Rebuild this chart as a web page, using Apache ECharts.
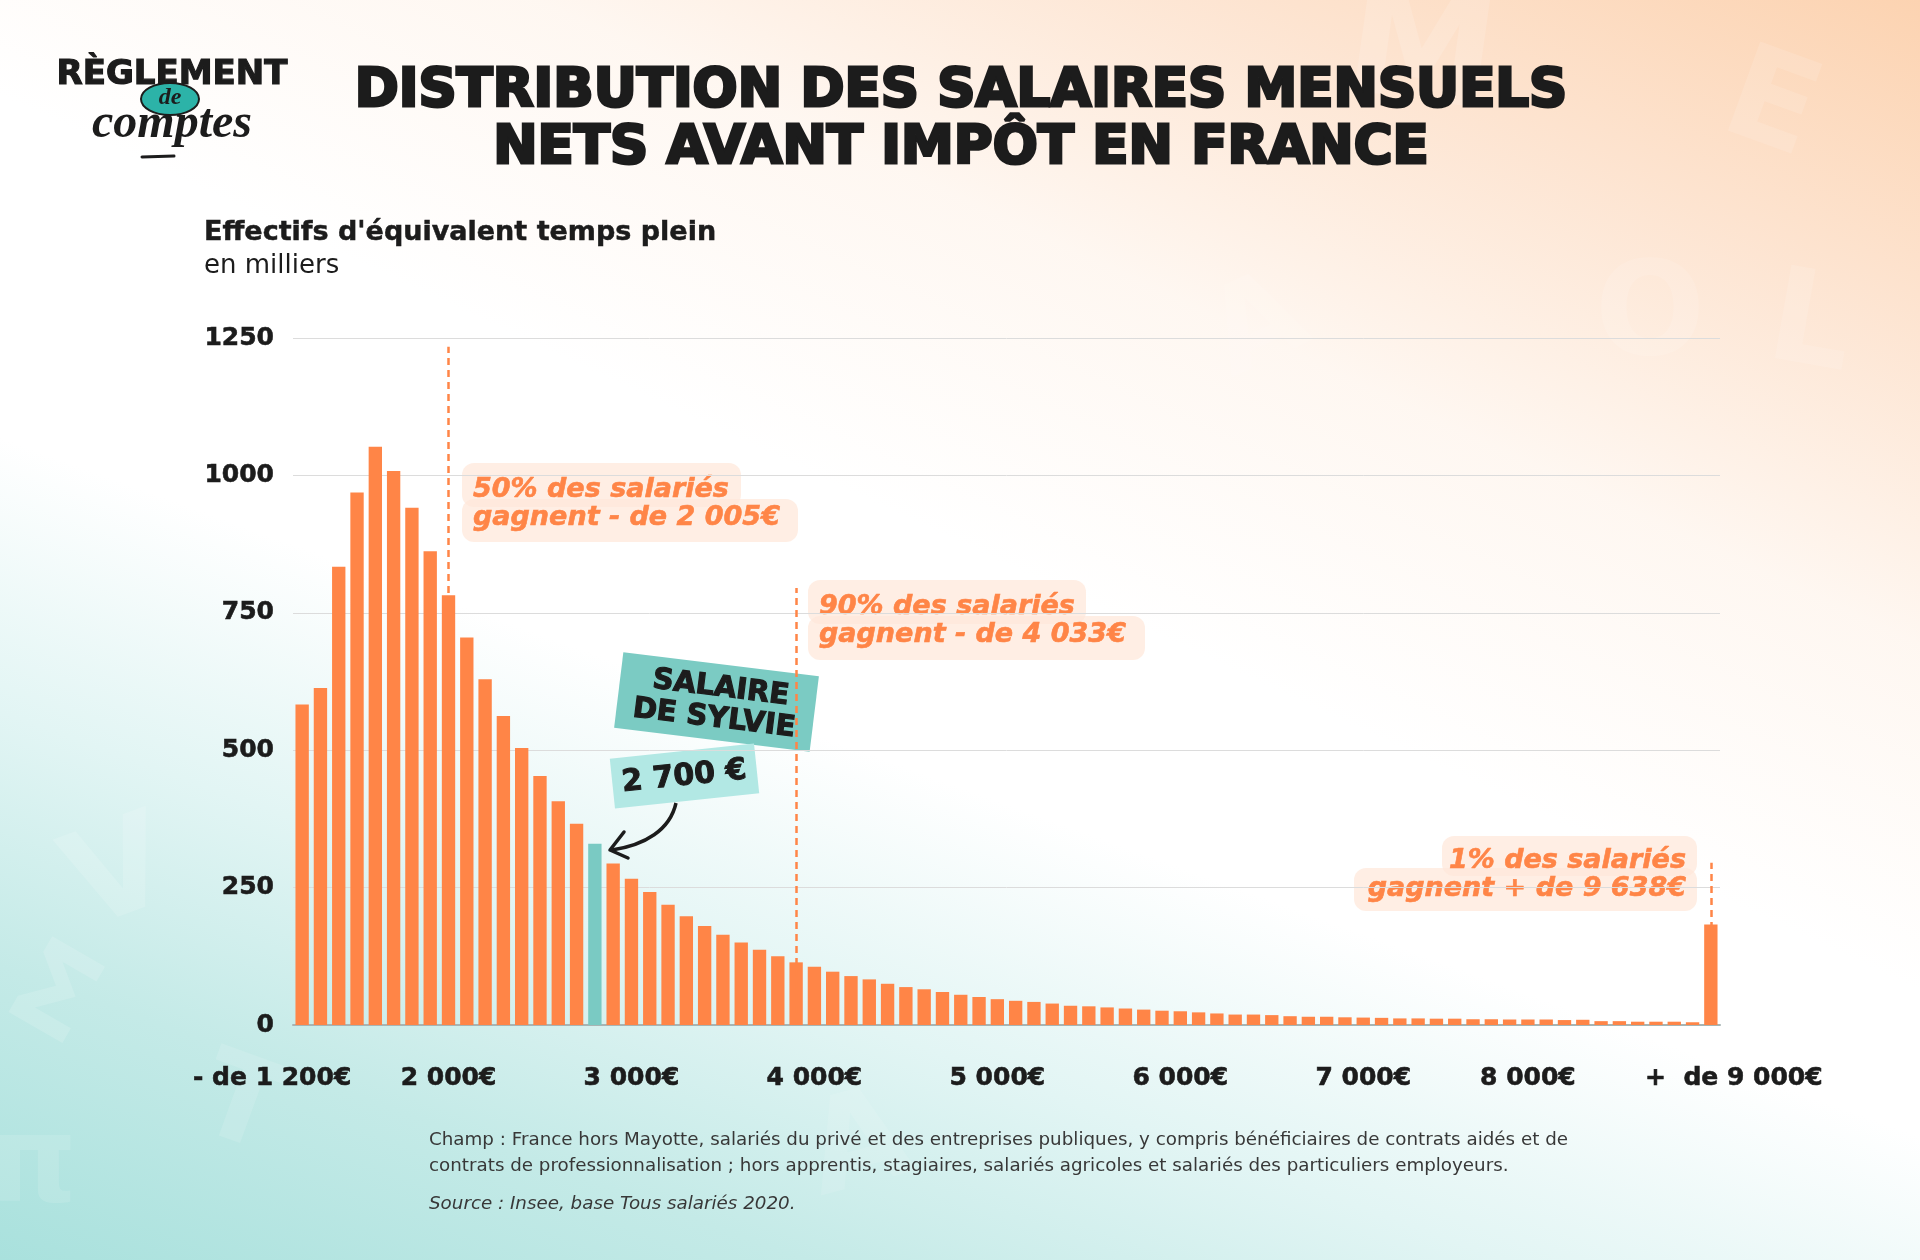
<!DOCTYPE html>
<html><head><meta charset="utf-8">
<script src="https://cdn.jsdelivr.net/npm/echarts@6/dist/echarts.min.js"></script>
<style>
html,body{margin:0;padding:0;width:1920px;height:1260px;overflow:hidden;}
body{background:
 linear-gradient(205deg,rgba(252,211,177,1) 0%,rgba(253,227,207,0.9) 16%,rgba(254,242,232,0.6) 30%,rgba(255,255,255,0) 46%),
 linear-gradient(20deg,#A9E1DD 0%,#C4EAE7 15%,#E2F5F4 28%,rgba(255,255,255,0) 42%),
 #FFFFFF;}
#chart{width:1920px;height:1260px;}
</style></head><body><div id="chart"></div>
<script>
// Salary bins (monthly net, €) — one bar per bin
const categories = ["< 1 200","1 200","1 300","1 400","1 500","1 600","1 700","1 800","1 900","2 000",
"2 100","2 200","2 300","2 400","2 500","2 600","2 700","2 800","2 900","3 000",
"3 100","3 200","3 300","3 400","3 500","3 600","3 700","3 800","3 900","4 000",
"4 100","4 200","4 300","4 400","4 500","4 600","4 700","4 800","4 900","5 000",
"5 100","5 200","5 300","5 400","5 500","5 600","5 700","5 800","5 900","6 000",
"6 100","6 200","6 300","6 400","6 500","6 600","6 700","6 800","6 900","7 000",
"7 100","7 200","7 300","7 400","7 500","7 600","7 700","7 800","7 900","8 000",
"8 100","8 200","8 300","8 400","8 500","8 600","8 700","+ 9 000"];
// Full-time equivalent headcount, thousands
const headcount = [583,613,834,969,1052,1008,941,862,782,705,
629,562,504,453,407,366,330,294,266,242,
219,198,180,164,150,137,125,114,106,97,
89,83,75,69,65,60,55,51,47,44,
42,39,35,34,32,30,28,26,25,23,
21,19,19,18,16,15,15,14,13.5,13,
12,12,11.5,11.5,10.5,10.5,10,10,10,9,
9.5,7,7,6,6,6,5,183];
const sylvieIndex = 16;
// x tick labels and the bins they sit under
const xTickIndex = [0,8,18,28,38,48,58,67,77];
const xTickLabels = ["- de 1 200€","2 000€","3 000€","4 000€","5 000€","6 000€","7 000€","8 000€","+  de 9 000€"];
// percentile markers: bin index and dashed-line top (thousands)
const markerIndex = [8,27,77];
const markerTop = [1234,795,295];

const ORANGE='#FF8547', TEAL='#7ACAC3', DARK='#1C1C1C';
const BOLD='"DejaVu Sans", sans-serif';

const chart = echarts.init(document.getElementById('chart'), null, {renderer:'canvas'});

const barData = headcount.map((v,i)=> i===sylvieIndex ? {value:v,itemStyle:{color:TEAL}} : v);

function annBox(x,y,w1,w2,h1,h2,lines,alignRight){
  const r=12, fill='rgba(255,232,218,0.72)';
  const children=[];
  if(alignRight){
    children.push({type:'rect',shape:{x:x+w2-w1,y:y,width:w1,height:h1+8,r:r},style:{fill:fill}});
  } else {
    children.push({type:'rect',shape:{x:x,y:y,width:w1,height:h1+8,r:r},style:{fill:fill}});
  }
  children.push({type:'rect',shape:{x:x,y:y+h1,width:w2,height:h2,r:r},style:{fill:fill}});
  lines.forEach((t,i)=>{
    children.push({type:'text',style:{text:t,x:alignRight? x+w2-11 : x+11,y:y+h1/2+9+i*28,
      fill:ORANGE,font:'italic bold 27px '+BOLD,stroke:ORANGE,lineWidth:0.6,textAlign:alignRight?'right':'left',textVerticalAlign:'middle'}});
  });
  return {type:'group',children:children,z:20};
}

// faint decorative background letters
function ghost(ch,x,y,size,rot,alpha){
  return {type:'text',z:-5,silent:true,x:x,y:y,rotation:rot*Math.PI/180,
    style:{text:ch,x:0,y:0,textAlign:'center',textVerticalAlign:'middle',font:'bold '+size+'px '+BOLD,fill:'rgba(255,255,255,'+alpha+')'}};
}

const axisFont = {color:DARK,fontFamily:BOLD,fontWeight:'bold',fontSize:25,textBorderColor:DARK,textBorderWidth:0.6};

const option = {
  animation:false,
  backgroundColor:'transparent',
  grid:{left:293,right:200,top:338,bottom:235,containLabel:false},
  xAxis:{type:'category',data:categories,
    axisLine:{lineStyle:{color:'#A7B5B4',width:2}},
    axisTick:{show:false},
    axisLabel:Object.assign({interval:(i)=>xTickIndex.includes(i),margin:41,
      formatter:(v,i)=>{const k=xTickIndex.indexOf(i); if(k<0) return '';
        if(k===0) return '{first|'+xTickLabels[k]+'}';
        if(k===xTickLabels.length-1) return '{last|'+xTickLabels[k]+'}';
        return xTickLabels[k];},
      rich:{first:Object.assign({padding:[0,60,0,0]},axisFont),
            last:Object.assign({padding:[0,0,0,46]},axisFont)}
    },axisFont)},
  yAxis:{type:'value',min:0,max:1250,interval:250,
    axisLine:{show:false},axisTick:{show:false},
    splitLine:{lineStyle:{color:'#DCDCDC',width:1}},
    axisLabel:Object.assign({margin:19,formatter:(v)=>String(v)},axisFont)},
  series:[{type:'bar',data:barData,barCategoryGap:'27%',
    itemStyle:{color:ORANGE},
    markLine:{silent:true,symbol:['none','none'],label:{show:false},
      lineStyle:{type:[7,5],width:2.5,color:ORANGE},
      data:markerIndex.map((ix,k)=>[{coord:[categories[ix],0]},{coord:[categories[ix],markerTop[k]]}])
    }}],
  graphic:[
    // background letters
    ghost('M',1420,60,150,-8,0.14),
    ghost('E',1770,110,130,-20,0.12),
    ghost('L',1810,330,130,-10,0.12),
    ghost('O',1650,320,130,0,0.12),
    ghost('A',1260,330,120,25,0.1),
    ghost('V',120,880,130,20,0.14),
    ghost('Σ',50,1000,120,-30,0.14),
    ghost('T',240,1110,120,-20,0.12),
    ghost('π',30,1170,120,0,0.12),
    ghost('A',860,1150,130,15,0.1),
    // Title
    {type:'text',z:10,style:{text:'DISTRIBUTION DES SALAIRES MENSUELS',x:961,y:92,textAlign:'center',textVerticalAlign:'middle',
      font:'bold 53px '+BOLD,fill:DARK,stroke:DARK,lineWidth:3}},
    {type:'text',z:10,style:{text:'NETS AVANT IMPÔT EN FRANCE',x:961,y:149,textAlign:'center',textVerticalAlign:'middle',
      font:'bold 53px '+BOLD,fill:DARK,stroke:DARK,lineWidth:3}},
    // Logo
    {type:'text',z:10,style:{text:'RÈGLEMENT',x:172,y:75,textAlign:'center',textVerticalAlign:'middle',
      font:'bold 34px '+BOLD,fill:DARK,stroke:DARK,lineWidth:1.2,shadowColor:'rgba(240,140,80,0.8)',shadowBlur:6}},
    {type:'ellipse',z:10,shape:{cx:170,cy:99,rx:29,ry:16},style:{fill:'#2CB3A8',stroke:DARK,lineWidth:2}},
    {type:'text',z:11,style:{text:'de',x:170,y:98,textAlign:'center',textVerticalAlign:'middle',
      font:'italic bold 24px "Liberation Serif", serif',fill:DARK}},
    {type:'text',z:10,style:{text:'comptes',x:172,y:125,textAlign:'center',textVerticalAlign:'middle',
      font:'italic bold 48px "Liberation Serif", serif',fill:DARK,shadowColor:'rgba(240,140,80,0.8)',shadowBlur:6}},
    {type:'line',z:10,shape:{x1:142,y1:157,x2:174,y2:156},style:{stroke:DARK,lineWidth:3,lineCap:'round'}},
    // Axis titles
    {type:'text',z:10,style:{text:"Effectifs d'équivalent temps plein",x:204,y:233,textVerticalAlign:'middle',
      font:'bold 27px '+BOLD,fill:DARK,stroke:DARK,lineWidth:0.5}},
    {type:'text',z:10,style:{text:'en milliers',x:204,y:266,textVerticalAlign:'middle',
      font:'26px '+BOLD,fill:DARK}},
    // Percentile annotations
    annBox(462,463,279,336,36,43,['50% des salariés','gagnent - de 2 005€'],false),
    annBox(808,580,278,337,36,44,['90% des salariés','gagnent - de 4 033€'],false),
    annBox(1354,836,255,343,32,43,['1% des salariés','gagnent + de 9 638€'],true),
    // Sylvie label
    {type:'group',z:30,x:716,y:702,rotation:-7*Math.PI/180,children:[
      {type:'rect',shape:{x:-98,y:-38,width:197,height:76},style:{fill:'#7BCBC3'}},
      {type:'text',style:{text:'SALAIRE',x:3,y:-14,textAlign:'center',textVerticalAlign:'middle',font:'bold 29px '+BOLD,fill:DARK,stroke:DARK,lineWidth:1.2}},
      {type:'text',style:{text:'DE SYLVIE',x:0,y:17,textAlign:'center',textVerticalAlign:'middle',font:'bold 29px '+BOLD,fill:DARK,stroke:DARK,lineWidth:1.2}}
    ]},
    {type:'group',z:29,x:684,y:776,rotation:6*Math.PI/180,children:[
      {type:'rect',shape:{x:-72,y:-25,width:145,height:50},style:{fill:'#B2E8E4'}},
      {type:'text',style:{text:'2 700 €',x:0,y:1,textAlign:'center',textVerticalAlign:'middle',font:'bold 30px '+BOLD,fill:DARK,stroke:DARK,lineWidth:1}}
    ]},
    {type:'bezierCurve',z:30,shape:{x1:676,y1:803,cpx1:670,cpy1:830,cpx2:645,cpy2:845,x2:612,y2:850},style:{stroke:DARK,lineWidth:3.5,fill:null}},
    {type:'polyline',z:30,shape:{points:[[624,832],[610,850],[628,858]]},style:{stroke:DARK,lineWidth:3.5,fill:null,lineJoin:'round',lineCap:'round'}},
    // Footnote
    {type:'text',z:10,style:{text:'Champ : France hors Mayotte, salariés du privé et des entreprises publiques, y compris bénéficiaires de contrats aidés et de',
      x:429,y:1140,textVerticalAlign:'middle',font:'18.3px '+BOLD,fill:'#383838'}},
    {type:'text',z:10,style:{text:'contrats de professionnalisation ; hors apprentis, stagiaires, salariés agricoles et salariés des particuliers employeurs.',
      x:429,y:1166,textVerticalAlign:'middle',font:'18.3px '+BOLD,fill:'#383838'}},
    {type:'text',z:10,style:{text:'Source : Insee, base Tous salariés 2020.',
      x:429,y:1204,textVerticalAlign:'middle',font:'italic 18.3px '+BOLD,fill:'#383838'}}
  ]
};
chart.setOption(option);
</script></body></html>
